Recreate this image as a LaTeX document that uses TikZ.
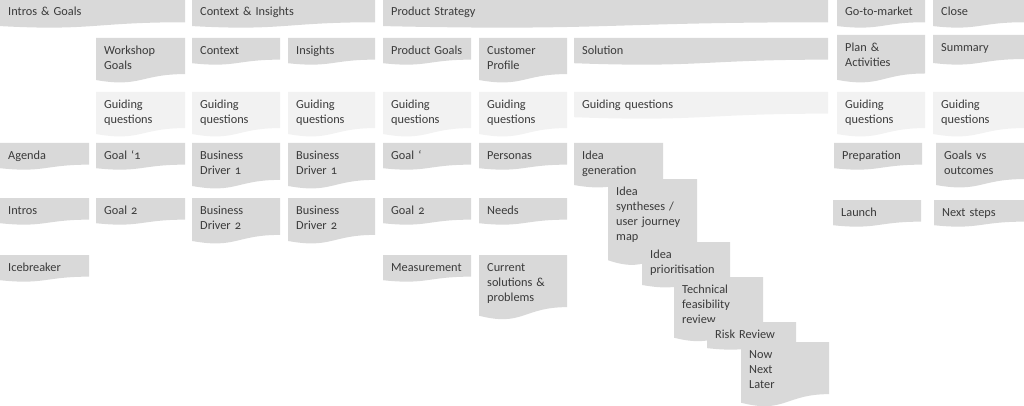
\documentclass[tikz,border=0pt]{standalone}
\usepackage{fontspec}
\setmainfont[Numbers=OldStyle]{Carlito}
\usepackage{tikz}
\definecolor{gray1}{HTML}{D9D9D9}
\definecolor{gray2}{HTML}{F2F2F2}
\definecolor{ink}{HTML}{3A3A3A}

% #1 style, #2 name, #3 x, #4 y, #5 width, #6 height, #7 text
\newcommand{\card}[7][card]{%
  \fill[#1] (#3,#4) -- ({#3+#5},#4) -- ({#3+#5},{#4+0.802*#6})
    .. controls ({#3+0.5*#5},{#4+0.802*#6}) and ({#3+0.5*#5},{#4+1.1075*#6})
    .. (#3,{#4+0.934*#6}) -- cycle;
  \node[cardtext] (#2) at ({#3+8},{#4+16.5}) {#7};
}

\begin{document}
\begin{tikzpicture}[x=1pt,y=-1pt]
  \tikzstyle{card}=[fill=gray1]
  \tikzstyle{guide}=[fill=gray2]
  \tikzstyle{cardtext}=[anchor=base west,inner sep=0pt,text=ink,align=left,
                        text width=160pt,font=\fontsize{12.3}{15}\selectfont]
  \useasboundingbox (0,0) rectangle (1024,406);

  \card{hIntros}{0}{-1}{185}{29}{Intros \& Goals}
  \card{hContext}{192}{-1}{183}{29}{Context \& Insights}
  \card{hStrategy}{383}{-1}{445}{29}{Product Strategy}
  \card{hMarket}{837}{-1}{88}{29}{Go-to-market}
  \card{hClose}{933}{-1}{91}{29}{Close}

  \card{workshop}{96}{38}{89}{45}{Workshop\\Goals}
  \card{context}{192}{38}{88}{27}{Context}
  \card{insights}{288}{38}{87}{27}{Insights}
  \card{prodGoals}{383}{38}{88}{27}{Product Goals}
  \card{custProfile}{479}{38}{88}{45}{Customer\\Profile}
  \card{solution}{574}{38}{254}{27}{Solution}
  \card{plan}{837}{35}{88}{48}{Plan \&\\Activities}
  \card{summary}{933}{35}{91}{30}{Summary}

  \card[guide]{gqWorkshop}{96}{92}{89}{45}{Guiding\\questions}
  \card[guide]{gqContext}{192}{92}{88}{45}{Guiding\\questions}
  \card[guide]{gqInsights}{288}{92}{87}{45}{Guiding\\questions}
  \card[guide]{gqGoals}{383}{92}{88}{45}{Guiding\\questions}
  \card[guide]{gqProfile}{479}{92}{88}{45}{Guiding\\questions}
  \card[guide]{gqSolution}{574}{92}{254}{27}{Guiding questions}
  \card[guide]{gqPlan}{837}{92}{88}{45}{Guiding\\questions}
  \card[guide]{gqSummary}{933}{92}{91}{45}{Guiding\\questions}

  \card{agenda}{0}{143}{89}{27}{Agenda}
  \card{goalOne}{96}{143}{89}{27}{Goal `1}
  \card{driverOneA}{192}{143}{88}{46}{Business\\Driver 1}
  \card{driverOneB}{288}{143}{87}{46}{Business\\Driver 1}
  \card{goalE}{383}{143}{88}{27}{Goal `}
  \card{personas}{479}{143}{88}{27}{Personas}
  \card{prep}{834}{143}{88}{27}{Preparation}
  \card{goalsOut}{936}{143}{88}{45}{Goals vs\\outcomes}

  \card{intros}{0}{198}{89}{27}{Intros}
  \card{goalTwo}{96}{198}{89}{27}{Goal 2}
  \card{driverTwoA}{192}{198}{88}{46}{Business\\Driver 2}
  \card{driverTwoB}{288}{198}{87}{46}{Business\\Driver 2}
  \card{goalTwoE}{383}{198}{88}{27}{Goal 2}
  \card{needs}{479}{198}{88}{27}{Needs}
  \card{launch}{833}{200}{88}{27}{Launch}
  \card{nextSteps}{934}{200}{90}{27}{Next steps}

  \card{icebreaker}{0}{255}{89}{27}{Icebreaker}
  \card{measurement}{383}{255}{88}{27}{Measurement}
  \card{current}{479}{255}{88}{65}{Current\\solutions \&\\problems}

  \card{ideaGen}{574}{143}{89}{45}{Idea\\generation}
  \card{ideaSyn}{608}{179}{89}{87}{Idea\\syntheses /\\user journey\\map}
  \card{ideaPrio}{642}{242}{88}{46}{Idea\\prioritisation}
  \card{techReview}{674}{277}{89}{65}{Technical\\feasibility\\review}
  \card{risk}{707}{322}{89}{28}{Risk Review}
  \card{nowNext}{741}{342}{88}{65}{Now\\Next\\Later}
\end{tikzpicture}
\end{document}
